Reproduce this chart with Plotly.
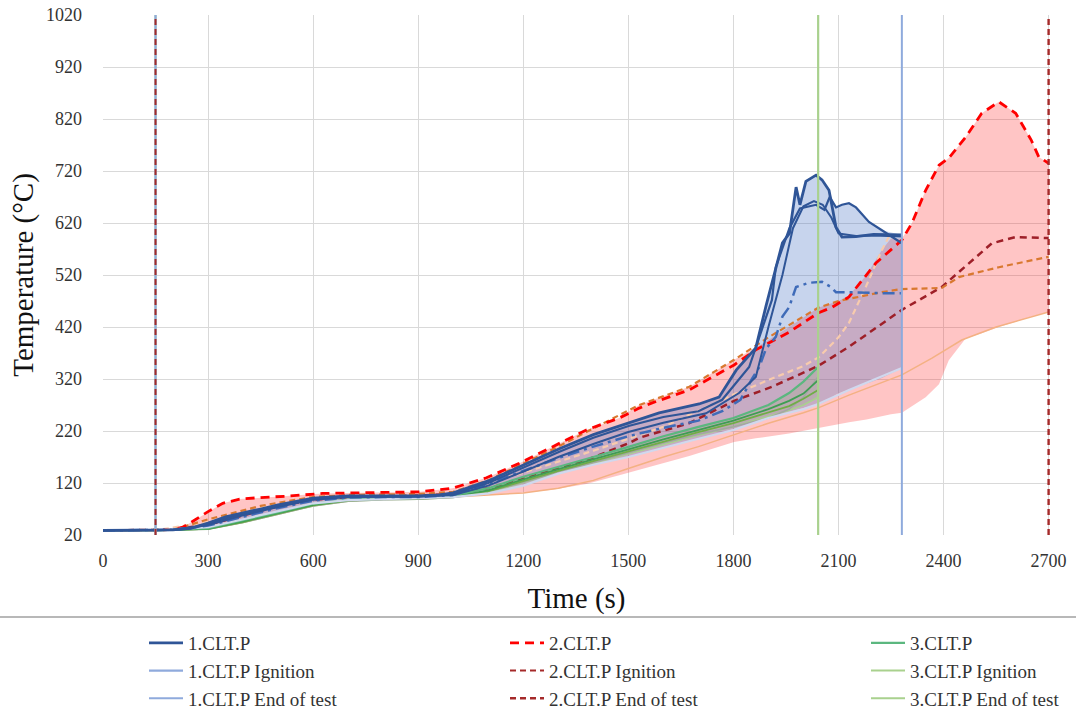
import plotly.graph_objects as go

# ---------------- data ----------------
# Specimen 1 (blue)
b1_x = [0,150,200,250,300,350,400,450,500,600,700,800,900,960,1000,1100,1200,1303,1400,1503,1588,1702,1759,1808,1864,1893,1940,1960,1979,1990,2007,2036,2053,2073,2093,2110,2150,2200,2250,2281]
b1_y = [29,29,30,33,43,55,62,70,78,91,95,95,95,97,101,124,155,186,213,236,255,272,285,337,380,460,582,600,689,655,700,712,703,683,612,593,594,598,598,597]
b2_x = [0,150,200,250,300,350,400,450,500,600,700,800,900,960,1000,1100,1200,1303,1400,1503,1600,1700,1768,1845,1910,1921,1960,1990,2036,2060,2075,2093,2110,2130,2150,2187,2224,2281]
b2_y = [29,29,30,32,41,52,60,68,76,89,94,94,94,96,99,120,150,180,207,230,247,258,280,343,472,535,610,648,655,645,670,650,655,658,650,622,606,581]
b3_x = [0,150,200,300,400,500,600,700,800,900,1000,1100,1200,1300,1400,1500,1600,1722,1816,1864,1900,1940,1970,2000,2030,2055,2080,2100,2150,2200,2281]
b3_y = [29,29,30,39,58,74,88,93,93,94,97,115,142,170,195,218,236,254,293,324,420,520,610,652,662,655,630,600,595,596,594]
d1_x = [0,150,200,300,400,500,600,700,800,900,1000,1100,1200,1300,1400,1500,1600,1700,1768,1820,1853,1874,1893,1921,1940,1959,1979,2016,2053,2078,2093,2130,2224,2281]
d1_y = [29,29,30,38,55,72,86,92,93,93,97,118,143,168,190,210,226,240,258,280,320,343,378,401,440,458,497,505,507,497,487,487,485,485]
l1_x = [0,150,300,400,500,600,700,800,900,1000,1100,1200,1300,1400,1500,1600,1700,1800,1900,2000,2042,2130,2200,2281]
l1_y = [29,29,35,50,66,81,87,89,90,93,100,115,138,155,170,188,205,222,245,262,272,299,318,341]
band1_x  = [150,300,400,500,600,700,800,900,1000,1100,1200,1303,1400,1503,1588,1702,1759,1808,1864,1893,1921,1940,1960,1979,1990,2007,2036,2053,2073,2093,2110,2130,2150,2187,2224,2281]
band1_hi = [29,43,62,78,91,95,95,95,101,124,155,186,213,236,255,272,285,337,380,460,535,582,610,689,655,700,712,703,683,650,655,658,650,622,606,597]
band1_lo = [29,35,50,66,81,87,89,90,93,100,115,138,155,170,186,205,215,224,237,243,249,253,257,260,262,265,271,274,280,290,295,299,305,313,322,341]

# Specimen 2 (red)
r1_x = [0,150,200,228,260,300,342,390,450,533,627,700,800,904,998,1095,1189,1283,1380,1474,1531,1568,1674,1802,1864,1959,2042,2082,2130,2207,2281,2310,2349,2387,2415,2463,2509,2558,2606,2650,2672,2700]
r1_y = [29,29,31,35,48,65,81,89,92,95,100,101,102,103,110,130,158,189,222,245,264,274,299,347,376,410,447,458,478,543,587,620,683,731,745,785,831,853,831,780,747,735]
r2_x = [0,150,200,300,400,450,500,600,700,800,900,1000,1100,1200,1300,1400,1531,1674,1802,1900,2042,2100,2224,2281,2395,2444,2558,2700]
r2_y = [29,29,30,50,68,76,82,93,97,98,99,103,125,157,190,225,270,305,357,400,457,470,487,493,495,516,535,555]
r3_x = [0,150,200,300,400,500,600,700,800,900,1000,1100,1189,1303,1380,1503,1531,1674,1802,1910,2042,2130,2281,2395,2538,2606,2700]
r3_y = [29,29,30,40,58,75,88,93,95,96,99,110,126,149,164,197,207,235,278,305,345,382,453,497,581,593,591]
r4_x = [0,150,300,400,500,600,700,800,900,1000,1200,1400,1600,1800,1900,2000,2044,2100,2130,2180,2224,2245]
r4_y = [29,29,45,65,80,90,95,96,97,99,140,182,228,290,318,345,362,400,428,500,568,595]
r5_x = [0,150,300,400,500,600,700,800,900,1000,1100,1200,1300,1400,1500,1600,1700,1800,1900,2000,2044,2130,2281,2367,2452,2550,2700]
r5_y = [29,29,35,50,66,81,87,89,90,93,97,101,110,125,148,170,190,213,235,255,265,289,328,360,395,420,449]
band2_x  = [150,200,228,260,300,342,390,450,533,627,700,800,904,998,1095,1189,1283,1380,1474,1531,1674,1802,1864,1959,2042,2100,2130,2180,2224,2250,2281,2310,2349,2387,2415,2463,2509,2558,2606,2650,2672,2700]
band2_hi = [29,31,35,48,65,81,89,92,95,100,101,102,103,110,130,158,189,222,245,270,305,357,380,420,457,470,480,520,568,590,590,620,683,731,745,785,831,853,831,780,747,735]
band2_lo = [29,29,30,32,36,42,48,57,69,83,88,90,91,93,97,101,107,118,135,145,172,199,206,215,225,233,237,242,248,252,255,268,285,310,356,398,408,420,430,440,444,449]

# Specimen 3 (green)
g_x  = [0,150,300,400,500,600,700,800,900,1000,1100,1200,1303,1400,1503,1600,1700,1800,1900,1959,2000,2042]
g1_y = [29,29,33,48,64,80,88,91,92,96,110,132,151,170,190,210,228,245,270,293,315,343]
g2_y = [29,29,32,46,62,78,87,90,91,94,106,127,147,165,185,204,222,240,262,278,292,318]
g3_y = [29,29,32,45,61,77,86,89,90,93,104,124,144,162,181,200,218,235,255,268,282,299]
g4_y = [29,29,31,44,60,76,85,88,89,92,103,122,142,160,179,197,214,228,245,262,285,325]
g5_y = [29,29,31,44,60,76,85,88,89,92,102,120,140,158,177,195,212,228,248,260,270,285]

# Ignition / end-of-test times (s)
ign_time = 150
end_times = {"1": 2281, "2": 2700, "3": 2042}
y_span = [20, 1020]

x_ticks = [0,300,600,900,1200,1500,1800,2100,2400,2700]
y_ticks = [20,120,220,320,420,520,620,720,820,920,1020]

# ---------------- figure ----------------
FONT = "Liberation Serif"
fig = go.Figure()

def band(x, hi, lo, color):
    fig.add_trace(go.Scatter(x=x + x[::-1], y=hi + lo[::-1], fill="toself",
                             fillcolor=color, line=dict(width=0), mode="lines",
                             showlegend=False, hoverinfo="skip"))

band(band2_x, band2_hi, band2_lo, "rgba(255,40,40,0.27)")
band(band1_x, band1_hi, band1_lo, "rgba(68,114,196,0.30)")
band(g_x[1:], g1_y[1:], g5_y[1:], "rgba(112,173,71,0.15)")

def line(x, y, color, width, dash="solid", name=None, legend=None, rank=None):
    fig.add_trace(go.Scatter(
        x=x, y=y, mode="lines", line=dict(color=color, width=width, dash=dash),
        name=name, showlegend=name is not None,
        legendgroup=name if name else None,
        legend=legend if legend else "legend",
        legendrank=rank if rank else 1000, hoverinfo="skip",
        cliponaxis=False))

# specimen 2 curves
line(r5_x, r5_y, "#F4B183", 1.5)
line(r4_x, r4_y, "#F8CBAD", 2.2, "6px,4px")
line(r3_x, r3_y, "#9E1F28", 2.5, "7px,5px")
line(r2_x, r2_y, "#D9782F", 2.2, "6px,4px")
line(r1_x, r1_y, "#FF0000", 2.8, "9px,6px", name="2.CLT.P", legend="legend2", rank=1)

# specimen 3 curves
line(g_x, g5_y, "#A9D18E", 1.6)
line(g_x, g4_y, "#A5A5A5", 1.6)
line(g_x, g3_y, "#70AD47", 1.8)
line(g_x, g2_y, "#3E9E52", 1.8)
line(g_x, g1_y, "#5BB77F", 2.2, name="3.CLT.P", legend="legend3", rank=1)

# specimen 1 curves
line(l1_x, l1_y, "#D0D8EE", 2.2)
line(d1_x, d1_y, "#3F6BB8", 2.5, "12px,5px,3px,5px")
line(b3_x, b3_y, "#2F5597", 2.0)
line(b2_x, b2_y, "#2F5597", 2.2)
line(b1_x, b1_y, "#2F5597", 2.8, name="1.CLT.P", legend="legend", rank=1)

# ignition and end-of-test lines
line([ign_time, ign_time], y_span, "#A9D18E", 2.0, name="3.CLT.P Ignition", legend="legend3", rank=2)
line([ign_time, ign_time], y_span, "#8FAADC", 2.2, name="1.CLT.P Ignition", legend="legend", rank=2)
line([ign_time, ign_time], y_span, "#A52A2A", 2.0, "6px,4px", name="2.CLT.P Ignition", legend="legend2", rank=2)
line([end_times["3"]]*2, y_span, "#A9D18E", 2.2, name="3.CLT.P End of test", legend="legend3", rank=3)
line([end_times["1"]]*2, y_span, "#8FAADC", 2.0, name="1.CLT.P End of test", legend="legend", rank=3)
line([end_times["2"]]*2, y_span, "#A52A2A", 2.4, "6px,4px", name="2.CLT.P End of test", legend="legend2", rank=3)

W, H = 1076, 715
ML, MR, MT, MB = 103, 26, 15, 180
PW, PH = W - ML - MR, H - MT - MB

def px2paper_x(px):
    return (px - ML) / PW

def px2paper_y(py):
    return (H - MB - py) / PH

leg_common = dict(orientation="v", xanchor="left", yanchor="top",
                  y=px2paper_y(624), font=dict(family=FONT, size=19, color="#333333"),
                  bgcolor="rgba(0,0,0,0)", tracegroupgap=7.5, itemwidth=34,
                  traceorder="normal")

fig.update_layout(
    width=W, height=H,
    margin=dict(l=ML, r=MR, t=MT, b=MB, autoexpand=False),
    paper_bgcolor="white", plot_bgcolor="white",
    font=dict(family=FONT, color="#222222"),
    xaxis=dict(range=[0, 2704], tickvals=x_ticks, showgrid=True, gridcolor="#D9D9D9",
               gridwidth=1, zeroline=False, showline=False, automargin=False,
               tickfont=dict(family=FONT, size=18, color="#333333"),
               ticklabelstandoff=13,
               title=dict(text="Time (s)", font=dict(family=FONT, size=29, color="#111111"),
                          standoff=17)),
    yaxis=dict(range=[20, 1020], tickvals=y_ticks, showgrid=True, gridcolor="#D9D9D9",
               gridwidth=1, zeroline=False, showline=False, automargin=False,
               tickfont=dict(family=FONT, size=18, color="#333333"),
               ticklabelstandoff=20,
               title=dict(text="Temperature (°C)", font=dict(family=FONT, size=29, color="#111111"),
                          standoff=3)),
    legend=dict(x=px2paper_x(144), **leg_common),
    legend2=dict(x=px2paper_x(505), **leg_common),
    legend3=dict(x=px2paper_x(866), **leg_common),
    shapes=[dict(type="line", xref="paper", yref="paper",
                 x0=px2paper_x(0), x1=px2paper_x(W), y0=px2paper_y(617), y1=px2paper_y(617),
                 line=dict(color="#A0A0A0", width=1.5))],
)

fig.write_html("out.html", config={"displayModeBar": False},
               post_script="document.body.style.margin='0px';")
